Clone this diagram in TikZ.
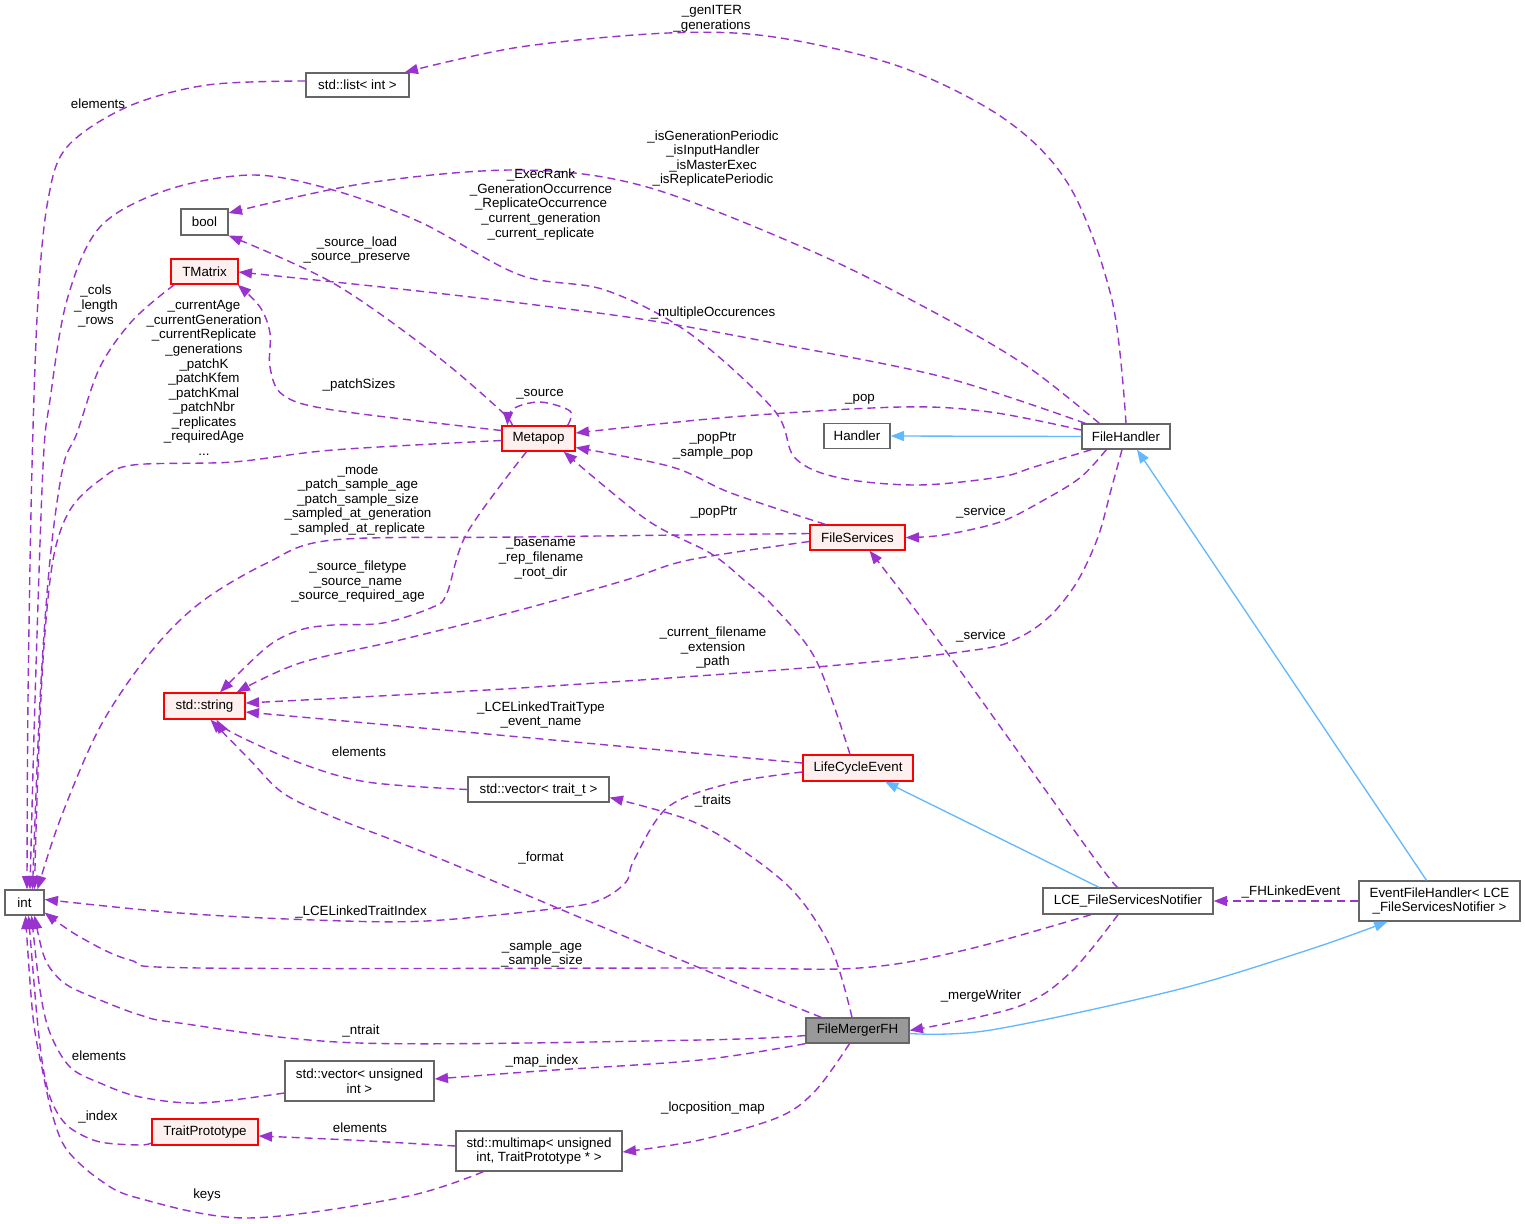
\documentclass[tikz,border=0pt]{standalone}
\usepackage{fontspec}
\setmainfont{Liberation Sans}
\usetikzlibrary{arrows.meta,calc}
\definecolor{dpurple}{HTML}{9A32CD}
\definecolor{dblue}{HTML}{63B8FF}
\definecolor{dgray}{HTML}{666666}
\definecolor{dpink}{HTML}{FFF0F0}
\definecolor{dfill}{HTML}{999999}
\newcommand\dgfont{\fontsize{10}{10.9}\selectfont}
\tikzset{
  gbox/.style={draw=dgray, fill=white, line width=1pt, inner sep=0pt, font=\dgfont, align=center},
  rbox/.style={gbox, draw=red, fill=dpink},
  cbox/.style={gbox, fill=dfill},
  dims/.style 2 args={minimum width=#1*0.75pt, minimum height=#2*0.75pt},
  dep/.style={draw=dpurple, line width=1.05pt, dash pattern=on 6pt off 3.75pt, -{Triangle[length=10pt,width=7.5pt]}},
  inh/.style={draw=dblue, line width=1pt, -{Triangle[length=10pt,width=7.5pt]}},
  lbl/.style={font=\dgfont, align=center, inner sep=0pt},
  sm/.style={smooth, tension=0.55}
}
\begin{document}
\begin{tikzpicture}[x=0.75pt,y=-0.75pt]
\fill[white] (0,0) rectangle (1525,1224);
\useasboundingbox (0,0) rectangle (1525,1224);

% nodes
\node[gbox, dims={103}{24}] (list) at (357.5,85) {std::list< int >};
\node[gbox, dims={47}{26}] (bool) at (204.5,222) {bool};
\node[rbox, dims={67}{25}] (tm) at (204.5,271.5) {TMatrix};
\node[rbox, dims={73}{25}] (mp) at (538.5,438.5) {Metapop};
\node[gbox, dims={66}{25}] (hd) at (857,436) {Handler};
\node[gbox, dims={88}{25}] (fh) at (1126,436.5) {FileHandler};
\node[rbox, dims={95}{25}] (fs) at (857.5,537.5) {FileServices};
\node[rbox, dims={81}{26}] (ss) at (204.5,706) {std::string};
\node[rbox, dims={110}{26}] (lce) at (858,768) {LifeCycleEvent};
\node[gbox, dims={141}{25}] (vt) at (538.5,789.5) {std::vector< trait\_t >};
\node[gbox, dims={39}{25}] (int) at (24.5,902.5) {int};
\node[gbox, dims={170}{26}] (lcf) at (1128,901) {LCE\_FileServicesNotifier};
\node[gbox, dims={161}{40}] (efh) at (1439.5,901) {EventFileHandler< LCE\\\_FileServicesNotifier >};
\node[cbox, dims={103}{25}] (fm) at (857.5,1030.5) {FileMergerFH};
\node[gbox, dims={149}{40}] (vu) at (359.5,1081) {std::vector< unsigned\\int >};
\node[rbox, dims={106}{26}] (tp) at (205,1132) {TraitPrototype};
\node[gbox, dims={166}{40}] (mm) at (539,1151) {std::multimap< unsigned\\int, TraitPrototype * >};

% connectors
% FileHandler -> std::list<int>
\draw[dep] plot[sm] coordinates {(fh.north) (1112,300) (1070,187) (1006,120) (901,67) (774,37) (668,33) (520,47) ($(list.north east)+(-5,0)$)};
% std::list<int> -> int
\draw[dep] plot[sm] coordinates {($(list.west)+(0,-4)$) (207,85) (127,107) (67,147) (48,200) (38,300) (32,467) (28,700) ($(int.north)+(2.5,0)$)};
% FileHandler -> int (_ExecRank ...)
\draw[dep] plot[sm] coordinates {($(fh.south west)+(10,0)$) (1034,467) (1000,477) (918,485) (840,478) (795,458) (774,410) (689,333) (605,290) (520,275) (420,222) (333,190) (253,175) (167,190) (100,227) (67,300) (50,400) (43,467) (35,700) ($(int.north)+(5.5,0)$)};
% FileHandler -> bool
\draw[dep] plot[sm] coordinates {($(fh.north west)+(18,0)$) (1028,367) (943,317) (816,253) (647,187) (520,170) (367,183) ($(bool.east)+(0,-9)$)};
% FileHandler -> TMatrix
\draw[dep] plot[sm] coordinates {($(fh.north west)+(4,0)$) (943,377) (774,343) (647,320) (520,303) (400,289) ($(tm.east)+(0,0.5)$)};
% FileHandler -> Metapop
\draw[dep] plot[sm] coordinates {($(fh.west)+(0,-6.5)$) (990,412) (901,407) (731,417) ($(mp.east)+(0,-5.5)$)};
% FileHandler -> Handler
\draw[inh] (fh.west) -- (hd.east);
% FileHandler -> FileServices
\draw[dep] plot[sm] coordinates {($(fh.south west)+(25,0)$) (1081,477) (1044,500) (1000,522) (943,535) (fs.east)};
% FileHandler -> std::string
\draw[dep] plot[sm] coordinates {($(fh.south)+(-4,0)$) (1111,490) (1098,537) (1077,582) (1050,616) (1018,638) (975,650) (816,667) (520,688) ($(ss.east)+(0,-3)$)};
% Metapop self loop
\draw[dep] plot[sm] coordinates {($(mp.north east)+(-8,0)$) (570,411) (540,402) (513,409) ($(mp.north west)+(6,0)$)};
% Metapop -> bool
\draw[dep] plot[sm] coordinates {($(mp.north west)+(11,0)$) (500,410) (433,353) (333,283) (bool.south east)};
% Metapop -> TMatrix
\draw[dep] plot[sm] coordinates {($(mp.west)+(0,-8)$) (333,410) (283,395) (270,367) (270,333) (260,307) ($(tm.south east)+(-1,0)$)};
% Metapop -> int
\draw[dep] plot[sm] coordinates {($(mp.west)+(0,2)$) (333,450) (233,462) (133,465) (100,480) (70,510) (53,560) (43,660) (37,800) ($(int.north)+(10,0)$)};
% TMatrix -> int
\draw[dep] plot[sm] coordinates {($(tm.south west)+(4,0)$) (133,320) (100,367) (77,433) (63,467) (50,560) (40,700) ($(int.north)+(8,0)$)};
% FileServices -> Metapop
\draw[dep] plot[sm] coordinates {($(fs.north west)+(16,0)$) (731,493) (672,467) ($(mp.east)+(0,9)$)};
% FileServices -> int
\draw[dep] plot[sm] coordinates {($(fs.west)+(0,-4)$) (520,537) (333,540) (267,563) (200,603) (150,653) (100,727) (60,820) ($(int.north)+(13,0)$)};
% FileServices -> std::string
\draw[dep] plot[sm] coordinates {($(fs.west)+(0,4)$) (689,560) (626,580) (520,610) (400,640) (300,663) ($(ss.north east)+(-9,0)$)};
% Metapop -> std::string
\draw[dep] plot[sm] coordinates {($(mp.south)+(-12,0)$) (467,533) (447,593) (433,607) (383,623) (333,625) (300,630) (267,647) ($(ss.north)+(15.5,0)$)};
% LifeCycleEvent -> Metapop
\draw[dep] plot[sm] coordinates {($(lce.north)+(-8,0)$) (816,660) (774,607) (744,580) (710,553) (647,520) ($(mp.south east)+(-12,0)$)};
% LifeCycleEvent -> std::string
\draw[dep] plot[sm] coordinates {($(lce.west)+(0,-5)$) (520,737) ($(ss.east)+(0,6)$)};
% LifeCycleEvent -> int
\draw[dep] plot[sm] coordinates {($(lce.west)+(0,4)$) (731,783) (668,807) (634,860) (626,882) (600,900) (560,908) (426,921) (314,920) (179,913) ($(int.east)+(0,-3)$)};
% std::vector<trait_t> -> std::string
\draw[dep] plot[sm] coordinates {(vt.west) (367,782) (300,763) (233,733) ($(ss.south)+(12,0)$)};
% FileMergerFH -> std::vector<trait_t>
\draw[dep] plot[sm] coordinates {($(fm.north)+(-5.5,0)$) (832,950) (795,893) (742,850) (689,820) ($(vt.east)+(0,8)$)};
% FileMergerFH -> std::string
\draw[dep] plot[sm] coordinates {($(fm.north west)+(16,0)$) (700,968) (443,860) (333,817) (283,793) (250,760) ($(ss.south)+(6,0)$)};
% LCE_FileServicesNotifier -> int
\draw[dep] plot[sm] coordinates {($(lcf.south)+(-37,0)$) (965,950) (859,968) (700,968) (200,968) (130,960) (80,937) ($(int.east)+(0,10)$)};
% LCE_FileServicesNotifier -> FileServices
\draw[dep] plot[sm] coordinates {($(lcf.north)+(-10,0)$) (1092,855) (943,647) ($(fs.south)+(12,0)$)};
% LCE_FileServicesNotifier -> LifeCycleEvent
\draw[inh] ($(lcf.north)+(-29,0)$) -- ($(lce.south)+(27,0)$);
% LCE_FileServicesNotifier -> FileMergerFH
\draw[dep] plot[sm] coordinates {($(lcf.south)+(-10,0)$) (1070,973) (1017,1007) (fm.east)};
% EventFileHandler -> LCE_FileServicesNotifier
\draw[dep] (efh.west) -- (lcf.east);
% EventFileHandler -> FileHandler
\draw[inh] ($(efh.north)+(-13,0)$) -- ($(fh.south)+(11,0)$);
% FileMergerFH -> EventFileHandler
\draw[inh] plot[sm] coordinates {($(fm.east)+(0,3)$) (991,1030) (1176,990) (1308,950) ($(efh.south)+(-52,0)$)};
% FileMergerFH -> int
\draw[dep] plot[sm] coordinates {($(fm.west)+(0,5)$) (700,1040) (359,1043) (179,1023) (140,1015) (100,1000) (67,985) (50,968) (42,950) ($(int.south)+(10,0)$)};
% std::vector<unsigned int> -> int
\draw[dep] plot[sm] coordinates {($(vu.west)+(0,12)$) (200,1103) (140,1097) (100,1083) (70,1067) (50,1033) (40,990) ($(int.south)+(7,0)$)};
% TraitPrototype -> int
\draw[dep] plot[sm] coordinates {($(tp.west)+(0,11)$) (140,1145) (100,1142) (73,1130) (60,1117) (50,1097) (43,1067) (37,1017) ($(int.south)+(4,0)$)};
% multimap -> int
\draw[dep] plot[sm] coordinates {($(mm.south west)+(28,0)$) (404,1197) (247,1218) (138,1198) (100,1180) (67,1150) (53,1117) (43,1073) (33,1017) ($(int.south)+(1,0)$)};
% multimap -> TraitPrototype
\draw[dep] plot[sm] coordinates {($(mm.west)+(0,-5)$) (350,1140) ($(tp.east)+(0,4)$)};
% FileMergerFH -> std::vector<unsigned int>
\draw[dep] plot[sm] coordinates {(fm.south west) (700,1060) (540,1071) ($(vu.east)+(0,-2)$)};
% FileMergerFH -> multimap
\draw[dep] plot[sm] coordinates {($(fm.south)+(-8,0)$) (816,1090) (779,1117) (700,1140) ($(mm.east)+(0,1)$)};

% labels
\node[lbl] (l1) at (712,19) {\_genITER\\\_generations};
\node[lbl] (l2) at (98,104) {elements};
\node[lbl] (l3) at (713,158.5) {\_isGenerationPeriodic\\\_isInputHandler\\\_isMasterExec\\\_isReplicatePeriodic};
\node[lbl] (l4) at (541,204.5) {\_ExecRank\\\_GenerationOccurrence\\\_ReplicateOccurrence\\\_current\_generation\\\_current\_replicate};
\node[lbl] (l5) at (357,250) {\_source\_load\\\_source\_preserve};
\node[lbl] (l6) at (96,306) {\_cols\\\_length\\\_rows};
\node[lbl] (l7) at (204,378) {\_currentAge\\\_currentGeneration\\\_currentReplicate\\\_generations\\\_patchK\\\_patchKfem\\\_patchKmal\\\_patchNbr\\\_replicates\\\_requiredAge\\...};
\node[lbl] (l8) at (713,313) {\_multipleOccurences};
\node[lbl] (l9) at (359,385) {\_patchSizes};
\node[lbl] (l10) at (540,394) {\_source};
\node[lbl] (l11) at (860,399) {\_pop};
\node[lbl] (l12) at (713,446) {\_popPtr\\\_sample\_pop};
\node[lbl] (l13) at (358,500) {\_mode\\\_patch\_sample\_age\\\_patch\_sample\_size\\\_sampled\_at\_generation\\\_sampled\_at\_replicate};
\node[lbl] (l14) at (714,512) {\_popPtr};
\node[lbl] (l15) at (981,512) {\_service};
\node[lbl] (l16) at (541,558) {\_basename\\\_rep\_filename\\\_root\_dir};
\node[lbl] (l17) at (358,582) {\_source\_filetype\\\_source\_name\\\_source\_required\_age};
\node[lbl] (l18) at (713,648) {\_current\_filename\\\_extension\\\_path};
\node[lbl] (l19) at (981,636) {\_service};
\node[lbl] (l20) at (541,715) {\_LCELinkedTraitType\\\_event\_name};
\node[lbl] (l21) at (359,752) {elements};
\node[lbl] (l22) at (713,801) {\_traits};
\node[lbl] (l23) at (541,858) {\_format};
\node[lbl] (l24) at (1291,892) {\_FHLinkedEvent};
\node[lbl] (l25) at (361,912) {\_LCELinkedTraitIndex};
\node[lbl] (l26) at (542,954) {\_sample\_age\\\_sample\_size};
\node[lbl] (l27) at (981,996) {\_mergeWriter};
\node[lbl] (l28) at (361,1031) {\_ntrait};
\node[lbl] (l29) at (99,1056) {elements};
\node[lbl] (l30) at (542,1061) {\_map\_index};
\node[lbl] (l31) at (713,1108) {\_locposition\_map};
\node[lbl] (l32) at (98,1117) {\_index};
\node[lbl] (l33) at (360,1128) {elements};
\node[lbl] (l34) at (207,1195) {keys};
\end{tikzpicture}
\end{document}
